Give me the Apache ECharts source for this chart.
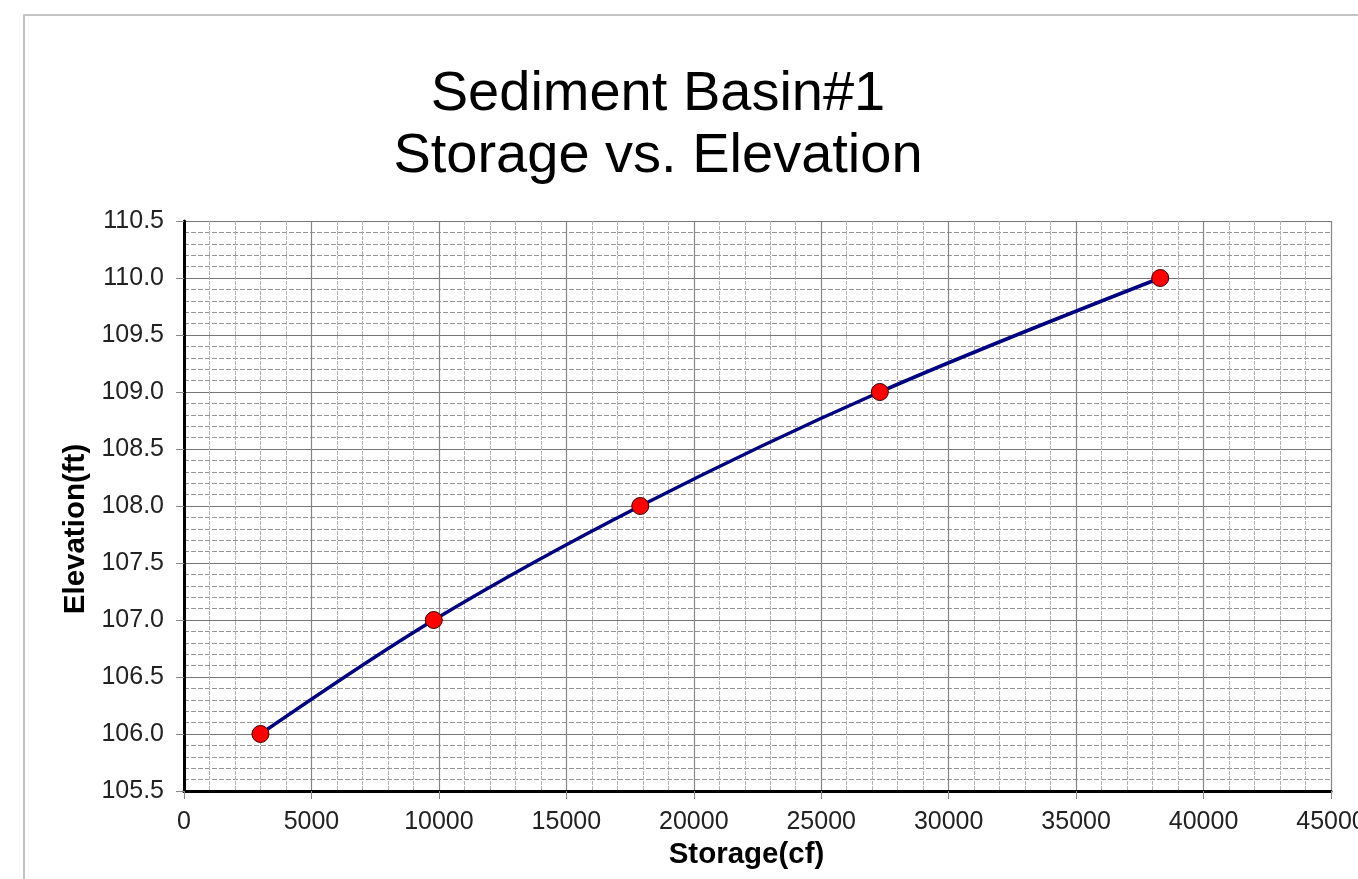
<!DOCTYPE html>
<html>
<head>
<meta charset="utf-8">
<script src="https://cdn.jsdelivr.net/npm/echarts@6/dist/echarts.min.js"></script>
<style>
html,body{margin:0;padding:0;background:#fff;}
#chart{width:1358px;height:879px;}
</style>
</head>
<body>
<div id="chart"></div>
<script>
const storage = [3000, 9800, 17900, 27300, 38300];
const elevation = [106.0, 107.0, 108.0, 109.0, 110.0];
const titleLines = ['Sediment Basin#1', 'Storage vs. Elevation'];
const xAxisName = 'Storage(cf)';
const yAxisName = 'Elevation(ft)';

const points = storage.map((s, i) => [s, elevation[i]]);
const FONT = '"Liberation Sans", Arial, sans-serif';

const chart = echarts.init(document.getElementById('chart'), null, {renderer: 'canvas'});
chart.setOption({
  animation: false,
  backgroundColor: '#ffffff',
  title: {
    text: titleLines.join('\n'),
    left: 658,
    top: 64,
    textAlign: 'center',
    padding: 0,
    textStyle: {fontFamily: FONT, fontSize: 56, fontWeight: 'normal', color: '#000', lineHeight: 62}
  },
  graphic: [{
    type: 'rect',
    shape: {x: 24, y: 15, width: 1500, height: 1000},
    style: {fill: 'none', stroke: '#c4c4c4', lineWidth: 2},
    silent: true, z: -10
  }],
  grid: {left: 184, right: 27, top: 221, bottom: 88, containLabel: false, outerBoundsMode: 'none'},
  xAxis: {
    type: 'value', min: 0, max: 45000, interval: 5000,
    name: xAxisName, nameLocation: 'middle', nameGap: 45,
    nameTextStyle: {fontFamily: FONT, fontSize: 29.5, fontWeight: 'bold', color: '#000', padding: [0, 22, 0, 0]},
    axisLine: {show: true, onZero: false, lineStyle: {color: '#000', width: 3}},
    axisTick: {show: true, length: 8, lineStyle: {color: '#888', width: 1}},
    minorTick: {show: false, splitNumber: 5},
    axisLabel: {fontFamily: FONT, fontSize: 25, color: '#222', margin: 19, showMaxLabel: true, hideOverlap: false, formatter: v => String(v)},
    splitLine: {show: true, lineStyle: {color: '#858585', width: 1.2, type: 'solid'}},
    minorSplitLine: {show: true, lineStyle: {color: '#b0b0b0', width: 1, type: [4, 1]}}
  },
  yAxis: {
    type: 'value', min: 105.5, max: 110.5, interval: 0.5,
    name: yAxisName, nameLocation: 'middle', nameGap: 93, nameRotate: 90,
    nameTextStyle: {fontFamily: FONT, fontSize: 29.5, fontWeight: 'bold', color: '#000', padding: [0, 46, 0, 0]},
    axisLine: {show: true, onZero: false, lineStyle: {color: '#000', width: 3}},
    axisTick: {show: true, length: 8, lineStyle: {color: '#888', width: 1}},
    minorTick: {show: false, splitNumber: 5},
    axisLabel: {fontFamily: FONT, fontSize: 25, color: '#222', margin: 20, formatter: v => v.toFixed(1)},
    splitLine: {show: true, lineStyle: {color: '#767676', width: 1.2, type: 'solid'}},
    minorSplitLine: {show: true, lineStyle: {color: '#959595', width: 1, type: [5, 2]}}
  },
  series: [{
    type: 'line',
    data: points,
    smooth: 0.33,
    lineStyle: {color: '#000080', width: 3.5},
    symbol: 'circle',
    symbolSize: 17,
    itemStyle: {color: '#ff0000', borderColor: '#3a0000', borderWidth: 1},
    z: 5
  }]
});
</script>
</body>
</html>
